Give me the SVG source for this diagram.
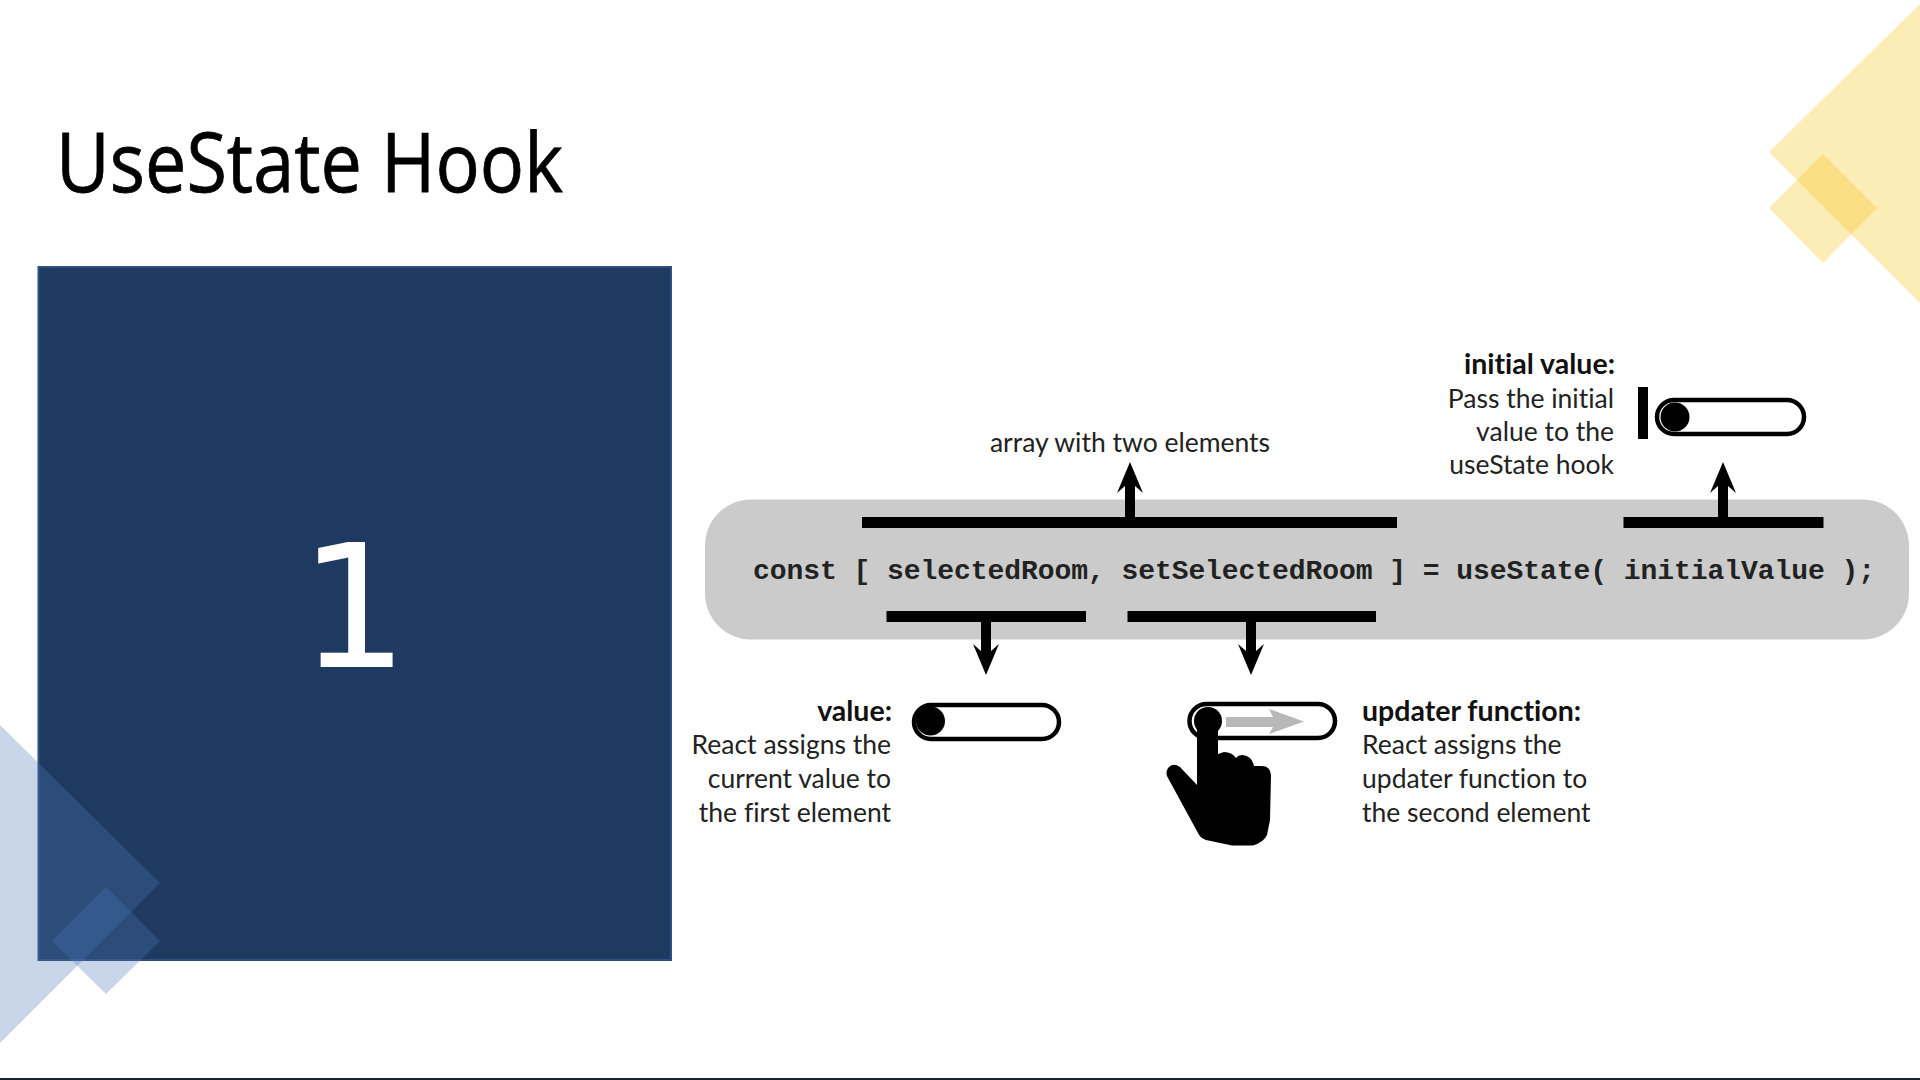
<svg xmlns="http://www.w3.org/2000/svg" width="1920" height="1080" viewBox="0 0 1920 1080">
<style>
text{font-variant-ligatures:none}
.label{font-family:"Lato","Open Sans",sans-serif;font-size:26.500px;fill:#222}
.b{font-weight:700;font-size:28.500px;fill:#111}
.end{text-anchor:end}
.code{font-family:"Liberation Mono",monospace;font-weight:700;font-size:28px;fill:#222}
.bar{fill:#000}
.stem{stroke:#000;stroke-width:10;fill:none;marker-end:url(#head)}
.track{fill:#fff;stroke:#000;stroke-width:4.500}
.blue{fill:#4b76b5;fill-opacity:.3}
.yellow{fill:#f5c41c;fill-opacity:.32}
</style>
<defs>
<marker id="head" markerUnits="userSpaceOnUse" viewBox="0 -14 31 28" refX="8" refY="0" markerWidth="31" markerHeight="28" orient="auto">
<path d="M0,-13 L31,0 L0,13 L7,5 L7,-5 Z" fill="#000"/>
</marker>
</defs>
<rect width="1920" height="1080" fill="#fff"/>
<polygon class="yellow" points="1920,4 1769,152 1920,303"/>
<polygon class="yellow" points="1823,154 1877,208 1823,263 1769,208"/>
<text id="title" x="56" y="192" font-family="'Open Sans',sans-serif" font-size="82" fill="#000" stroke="#000" stroke-width=".800" textLength="507" lengthAdjust="spacingAndGlyphs">UseState Hook</text>
<g id="number-panel">
<rect x="38.500" y="267" width="632.500" height="693" fill="#1f3a60" stroke="#2f5080" stroke-width="2"/>
<text x="354" y="667" text-anchor="middle" font-family="'DejaVu Sans',sans-serif" font-size="171" fill="#fff">1</text>
</g>
<polygon class="blue" points="0,725 160,883 0,1043"/>
<polygon class="blue" points="106,887 160,941 106,994 52,941"/>
<g id="code-line">
<rect x="705" y="499.500" width="1204" height="140" rx="46" fill="#cbcbcb"/>
<text class="code" x="753" y="579" textLength="1122" lengthAdjust="spacing">const [ selectedRoom, setSelectedRoom ] = useState( initialValue );</text>
</g>
<g id="connectors">
<rect class="bar" x="862" y="517" width="535" height="11"/>
<rect class="bar" x="1623.500" y="517" width="200" height="11"/>
<rect class="bar" x="886.500" y="611" width="199.500" height="11"/>
<rect class="bar" x="1127.500" y="611" width="248.500" height="11"/>
<line class="stem" x1="1130" y1="517" x2="1130" y2="485"/>
<line class="stem" x1="1723" y1="517" x2="1723" y2="485"/>
<line class="stem" x1="986" y1="622" x2="986" y2="652"/>
<line class="stem" x1="1251" y1="622" x2="1251" y2="652"/>
</g>
<g id="array-label">
<text class="label" x="1130" y="452" text-anchor="middle">array with two elements</text>
</g>
<g id="initial-value">
<text class="label b end" x="1615" y="374">initial value:</text>
<text class="label end" x="1614" y="408">Pass the initial</text>
<text class="label end" x="1614" y="441">value to the</text>
<text class="label end" x="1614" y="474">useState hook</text>
<rect x="1638" y="387" width="10" height="52" fill="#000"/>
<rect class="track" x="1657" y="400" width="147" height="34" rx="17"/>
<circle cx="1675" cy="417" r="14.500" fill="#000"/>
</g>
<g id="value">
<text class="label b end" x="892" y="721">value:</text>
<text class="label end" x="891" y="754">React assigns the</text>
<text class="label end" x="891" y="788">current value to</text>
<text class="label end" x="891" y="822">the first element</text>
<rect class="track" x="914" y="705" width="145" height="34" rx="17"/>
<circle cx="930.500" cy="721" r="14.500" fill="#000"/>
</g>
<g id="updater-function">
<text class="label b" x="1362" y="721">updater function:</text>
<text class="label" x="1362" y="754">React assigns the</text>
<text class="label" x="1362" y="788">updater function to</text>
<text class="label" x="1362" y="822">the second element</text>
<rect class="track" x="1189.500" y="704" width="145.500" height="34" rx="17"/>
<polygon points="1226,717 1273,717 1269,709 1304,721.500 1269,734 1273,727 1226,727" fill="#b8b8b8"/>
<circle cx="1208" cy="721" r="14" fill="#000"/>
<path fill="#000" d="M1197,725 L1197,785 L1180,767 Q1173,762 1168,768 Q1165,773 1168,778 L1198,833 Q1200,838 1206,840 L1232,845.500 L1253,845.500 Q1264,842 1267,835 L1270,820 L1271,775 Q1270,766 1262,766 L1254,766 Q1252,756 1243,755 Q1238,755 1236,758 Q1232,752 1224,752 L1218,754 L1218,725 Z"/>
</g>
<rect id="bottom-edge" x="0" y="1078" width="1920" height="2" fill="#16242c"/>
</svg>
